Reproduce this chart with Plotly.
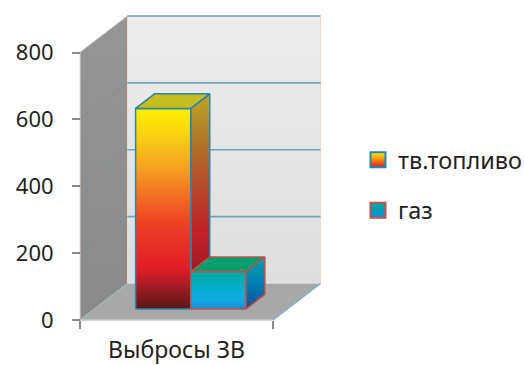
import plotly.graph_objects as go

# ---------------- data ----------------
categories = ["Выбросы ЗВ"]
series_names = ["тв.топливо", "газ"]
series_values = [600, 112]
y_tickvals = [0, 200, 400, 600, 800]
y_ticktext = ["0", "200", "400", "600", "800"]
y_max = 800

# ---------------- style ----------------
W, H = 524, 365
ML, MR, MT, MB = 77, 194, 10, 42
PAD = 3
PLOT_W = W - ML - MR
PLOT_H = H - MT - MB
UX = 193.0              # px per category unit
UY = 267.5 / y_max      # px per value unit
DEPTH_PX = (47.5, 36.5)
DX = DEPTH_PX[0] / UX
DY = DEPTH_PX[1] / UY
GAP = 1.5
Z0, Z1 = 0.3, 0.7
FONT = "Noto Sans"
FS = 22
FS_CAT = 23
FS_LEG = 23.5

front_scales = [
    [[0, "#5a1719"], [0.1, "#9a1b22"], [0.2, "#e01e26"], [0.4, "#ec3a24"],
     [0.55, "#f26a22"], [0.7, "#f59f21"], [0.85, "#facd14"], [1, "#fff100"]],
    [[0, "#1888d0"], [0.2, "#12a8e6"], [0.6, "#00b0c8"], [1, "#00a89a"]],
]
side_scales = [
    [[0, "#561618"], [0.15, "#9a1a22"], [0.35, "#c22026"], [0.6, "#b4502a"],
     [0.8, "#b07a28"], [1, "#bfa822"]],
    [[0, "#0a4f98"], [0.5, "#0080b0"], [1, "#00a0a8"]],
]
top_colors = ["#c6bb1f", "#00a06e"]
edge_colors = ["#2a86ae", "#c0504d"]
legend_top = ["#fff100", "#00a89a"]
legend_bot = ["#e01e26", "#1290dc"]


def P(x, y, z):
    return (x + z * DX, y + z * DY)


def poly(pts, fillcolor=None, fillgradient=None, line_color="rgba(0,0,0,0)", line_width=1):
    xs = [p[0] for p in pts] + [pts[0][0]]
    ys = [p[1] for p in pts] + [pts[0][1]]
    kw = dict(x=xs, y=ys, mode="lines", fill="toself", hoverinfo="skip",
              showlegend=False, line=dict(color=line_color, width=line_width))
    if fillgradient is not None:
        kw["fillgradient"] = fillgradient
    else:
        kw["fillcolor"] = fillcolor
    return go.Scatter(**kw)


def seg(a, b, color, width):
    return go.Scatter(x=[a[0], b[0]], y=[a[1], b[1]], mode="lines", hoverinfo="skip",
                      showlegend=False, line=dict(color=color, width=width))


fig = go.Figure()
ncat = len(categories)

# walls
left_wall = [P(0, 0, 0), P(0, 0, 1), P(0, y_max, 1), P(0, y_max, 0)]
back_wall = [P(0, 0, 1), P(ncat, 0, 1), P(ncat, y_max, 1), P(0, y_max, 1)]
floor = [P(0, 0, 0), P(ncat, 0, 0), P(ncat, 0, 1), P(0, 0, 1)]
fig.add_trace(poly(back_wall, fillgradient=dict(type="vertical",
              colorscale=[[0, "#dedede"], [1, "#ececec"]]), line_color="#f0d8cc", line_width=1))
fig.add_trace(poly(left_wall, fillgradient=dict(type="vertical",
              colorscale=[[0, "#8a8a8a"], [1, "#959595"]]), line_color="#f0d8cc", line_width=1))
fig.add_trace(poly(floor, fillcolor="#a8a8a8", line_color="#c8d4d8", line_width=1))

# gridlines
for v in y_tickvals[1:]:
    fig.add_trace(seg(P(0, v, 1), P(ncat, v, 1), "#6fa6b6", 1.6))
    fig.add_trace(seg(P(0, v, 0), P(0, v, 1), "rgba(110,140,150,0.5)", 1))
fig.add_trace(seg(P(0, 0, 0), P(0, 0, 1), "rgba(110,140,150,0.5)", 1))
fig.add_trace(seg(P(ncat, 0, 0), P(ncat, 0, 1), "#7fb0c0", 1.4))
fig.add_trace(seg(P(0, 0, 0), P(ncat, 0, 0), "#b8c8cc", 1.2))

# bars
nser = len(series_values)
bw = 1.0 / (nser + GAP)
for c in range(ncat):
    for i, v in enumerate(series_values):
        x0 = c + 0.5 - nser * bw / 2 + i * bw
        x1 = x0 + bw
        front = [P(x0, 0, Z0), P(x1, 0, Z0), P(x1, v, Z0), P(x0, v, Z0)]
        side = [P(x1, 0, Z0), P(x1, 0, Z1), P(x1, v, Z1), P(x1, v, Z0)]
        top = [P(x0, v, Z0), P(x1, v, Z0), P(x1, v, Z1), P(x0, v, Z1)]
        fig.add_trace(poly(side, fillgradient=dict(type="vertical", colorscale=side_scales[i]),
                           line_color=edge_colors[i], line_width=1.5))
        fig.add_trace(poly(front, fillgradient=dict(type="vertical", colorscale=front_scales[i]),
                           line_color=edge_colors[i], line_width=1.5))
        fig.add_trace(poly(top, fillcolor=top_colors[i], line_color=edge_colors[i], line_width=1.5))

# legend entries
for i, name in enumerate(series_names):
    fig.add_trace(go.Scatter(
        x=[None], y=[None], mode="markers", name=name, legendgroup=name,
        marker=dict(symbol="square", size=15, color=legend_top[i],
                    gradient=dict(type="vertical", color=legend_bot[i]),
                    line=dict(color=edge_colors[i], width=2))))

fig.update_layout(
    width=W, height=H,
    margin=dict(l=ML, r=MR, t=MT, b=MB, autoexpand=False),
    paper_bgcolor="white", plot_bgcolor="white",
    font=dict(family=FONT, size=FS, color="#231f20"),
    showlegend=True,
    legend=dict(x=(358 - ML) / PLOT_W, xanchor="left", y=(H - MB - 138) / PLOT_H, yanchor="top",
                font=dict(size=FS_LEG), tracegroupgap=17, bgcolor="rgba(0,0,0,0)",
                itemclick=False, itemdoubleclick=False),
    xaxis=dict(range=[-PAD / UX, (PLOT_W - PAD) / UX], showgrid=False, zeroline=False,
               showline=False, tickvals=[c + 0.5 for c in range(ncat)], ticktext=categories,
               ticks="", anchor="free", position=PAD / PLOT_H, ticklabelstandoff=14,
               tickfont=dict(size=FS_CAT), automargin=False,
               minor=dict(tickvals=list(range(ncat + 1)), ticks="outside", ticklen=8,
                          tickcolor="#8a8a8a", tickwidth=1.5, showgrid=False),
               fixedrange=True),
    yaxis=dict(range=[-PAD / UY, (PLOT_H - PAD) / UY], showgrid=False, zeroline=False,
               showline=False, tickvals=y_tickvals, ticktext=y_ticktext, ticks="outside",
               ticklen=8, tickcolor="#8a8a8a", tickwidth=1.5, anchor="free", automargin=False,
               position=PAD / PLOT_W, ticklabelstandoff=14, fixedrange=True),
)

fig.write_html("out.html")
